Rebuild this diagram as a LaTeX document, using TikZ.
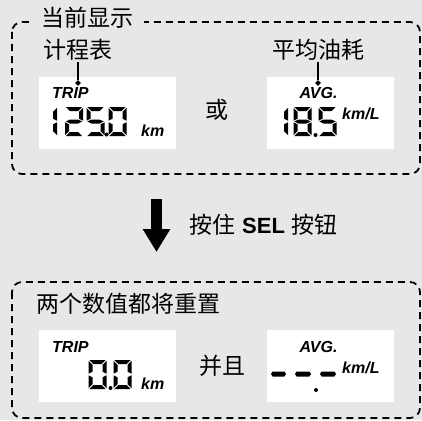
\documentclass[tikz,border=0pt]{standalone}
\usepackage{fontspec}
\setmainfont{Liberation Sans}
\newfontfamily\cjk{Noto Sans CJK SC}
\usetikzlibrary{arrows.meta,shapes.geometric}
\definecolor{panel}{RGB}{230,231,232}

\newcommand\hseg[3]{(#1,#3) -- (#1+1.6,#3-2.5) -- (#2-1.6,#3-2.5) -- (#2,#3) -- (#2-1.6,#3+2.5) -- (#1+1.6,#3+2.5) -- cycle}
\newcommand\lcdsega{(0.8,0) -- (17.2,0) -- (13.2,4) -- (4.8,4) -- cycle}
\newcommand\lcdsegd{(0.8,29) -- (17.2,29) -- (13.2,25) -- (4.8,25) -- cycle}
\newcommand\lcdsegg{(0.8,14.5) -- (4.8,12.5) -- (13.2,12.5) -- (17.2,14.5) -- (13.2,16.5) -- (4.8,16.5) -- cycle}
\newcommand\lcdsegf{(0,0.8) -- (4,4.8) -- (4,11.7) -- (0,13.7) -- cycle}
\newcommand\lcdsege{(0,15.3) -- (4,17.3) -- (4,24.2) -- (0,28.2) -- cycle}
\newcommand\lcdsegb{(18,0.8) -- (14,4.8) -- (14,11.7) -- (18,13.7) -- cycle}
\newcommand\lcdsegc{(18,15.3) -- (14,17.3) -- (14,24.2) -- (18,28.2) -- cycle}
\newcommand\lcddigit[3]{\begin{scope}[shift={(#1,#2)}]
  \foreach \s in {#3} {\expandafter\fill\csname lcdseg\s\endcsname;}
\end{scope}}

\begin{document}
\begin{tikzpicture}[x=1pt,y=-1pt,
    dashbox/.style={draw,line width=1.8pt,dash pattern=on 7pt off 5pt,rounded corners=10pt},
    screen/.style={fill=white,minimum width=137pt,minimum height=72pt,inner sep=0pt},
    cjktext/.style={font=\cjk\fontsize{23}{26}\selectfont,inner sep=1pt},
    lcdtext/.style={font=\bfseries\itshape\fontsize{16}{18}\selectfont,inner sep=0pt},
    pin/.style={diamond,fill,inner sep=0pt,minimum size=6pt},
    lead/.style={line width=1.6pt},
    bigarrow/.style={line width=11pt,-{Triangle[width=26pt,length=23pt]}}]

  \fill[panel] (0,0) rectangle (422,420);
  \useasboundingbox (0,0) rectangle (422,420);

  \draw[dashbox] (12,22) rectangle (420,174);
  \draw[dashbox] (12,282) rectangle (420,418);
  \node[cjktext,fill=panel,inner xsep=11pt] (current) at (87,18) {当前显示};

  % current display
  \node[screen] (tripscreen) at (107.5,113) {};
  \node[screen,minimum width=127pt] (avgscreen) at (330.5,113) {};
  \node[cjktext] (triplabel) at (78,50) {计程表};
  \node[cjktext] (avglabel) at (318,50) {平均油耗};
  \node[pin] (trippin) at (78,83) {};
  \node[pin] (avgpin) at (318,83) {};
  \draw[lead] (triplabel) -- (trippin);
  \draw[lead] (avglabel) -- (avgpin);
  \node[lcdtext,anchor=west] (tripname) at (52,93) {TRIP};
  \node[lcdtext] (avgname) at (318.5,93) {AVG.};
  \lcddigit{39}{107}{b,c}
  \lcddigit{65}{107}{a,b,g,e,d}
  \lcddigit{86.5}{107}{a,f,g,c,d}
  \lcddigit{108.5}{107}{a,b,c,d,e,f}
  \fill (106.5,134.5) circle (2);
  \node[lcdtext,anchor=base west] (tripunit) at (141,136) {km};
  \lcddigit{270}{107}{b,c}
  \lcddigit{293.5}{107}{a,b,c,d,e,f,g}
  \lcddigit{318.5}{107}{a,f,g,c,d}
  \fill (315.5,135) circle (2);
  \node[lcdtext,anchor=west] (avgunit) at (342,114) {km/L};
  \node[cjktext] (orword) at (217,110) {或};

  % press SEL
  \coordinate (arrtop) at (156.5,199);
  \coordinate (arrtip) at (156.5,252);
  \draw[bigarrow] (arrtop) -- (arrtip);
  \node[anchor=west,inner sep=0pt] (press) at (189,225)
    {{\cjk\fontsize{23}{26}\selectfont 按住}\hspace{7pt}{\bfseries\fontsize{22}{26}\selectfont SEL}\hspace{7pt}{\cjk\fontsize{23}{26}\selectfont 按钮}};

  % after reset
  \node[cjktext,anchor=west] (reset) at (35,304) {两个数值都将重置};
  \node[screen] (tripzero) at (107.5,366) {};
  \node[screen,minimum width=127pt] (avgzero) at (330.5,366) {};
  \node[lcdtext,anchor=west] (tripname2) at (52,347) {TRIP};
  \node[lcdtext] (avgname2) at (318.5,347) {AVG.};
  \lcddigit{88.5}{360}{a,b,c,d,e,f}
  \lcddigit{113.5}{360}{a,b,c,d,e,f}
  \fill (110.5,388) circle (2);
  \node[lcdtext,anchor=base west] (tripunit2) at (141,389) {km};
  \fill \hseg{271}{286}{374};
  \fill \hseg{295}{311}{374};
  \fill \hseg{320}{336}{374};
  \fill (316,390) circle (2);
  \node[lcdtext,anchor=west] (avgunit2) at (342,368) {km/L};
  \node[cjktext] (andword) at (222,366) {并且};
\end{tikzpicture}
\end{document}
